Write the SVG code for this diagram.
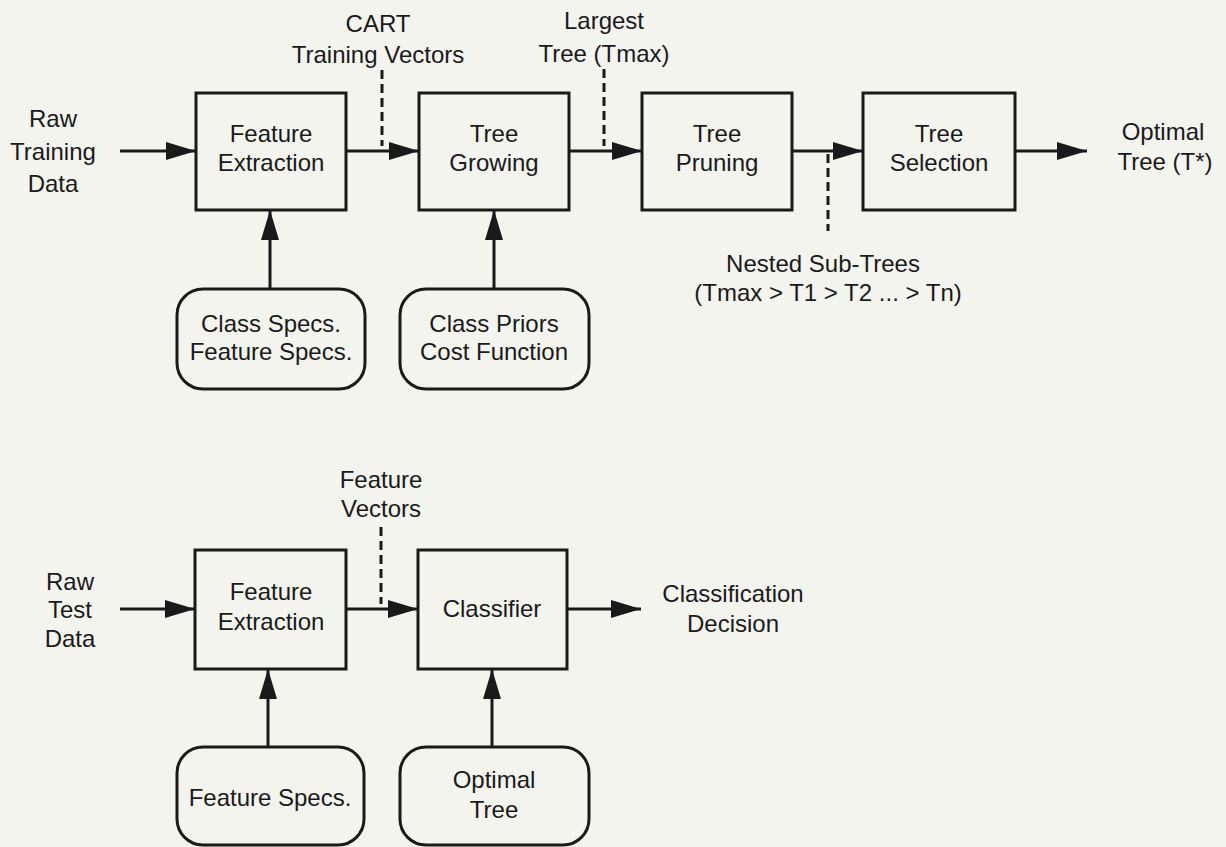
<svg xmlns="http://www.w3.org/2000/svg" width="1226" height="847" viewBox="0 0 1226 847">
<style>
.bg{fill:#f4f4ef}
.box{fill:none;stroke:#1a1a1a;stroke-width:3}
.ln{fill:none;stroke:#1a1a1a;stroke-width:3}
.dash{fill:none;stroke:#1a1a1a;stroke-width:3;stroke-dasharray:9 5}
text{font-family:"Liberation Sans",Arial,sans-serif;font-size:24px;fill:#1a1a1a;text-anchor:middle}
</style>
<defs>
<marker id="ah" markerUnits="userSpaceOnUse" markerWidth="30" markerHeight="18" refX="30" refY="9" orient="auto">
<path d="M0,0 L30,9 L0,18 z" fill="#1a1a1a"/>
</marker>
</defs>
<rect class="bg" x="0" y="0" width="1226" height="847"/>

<g id="connectors">
<line class="ln" x1="120" y1="151" x2="196" y2="151" marker-end="url(#ah)"/>
<line class="ln" x1="346" y1="151" x2="419" y2="151" marker-end="url(#ah)"/>
<line class="ln" x1="569" y1="151" x2="642" y2="151" marker-end="url(#ah)"/>
<line class="ln" x1="792" y1="151" x2="863" y2="151" marker-end="url(#ah)"/>
<line class="ln" x1="1015" y1="151" x2="1087" y2="151" marker-end="url(#ah)"/>
<line class="ln" x1="270" y1="289" x2="270" y2="210" marker-end="url(#ah)"/>
<line class="ln" x1="494" y1="289" x2="494" y2="210" marker-end="url(#ah)"/>
<line class="dash" x1="382" y1="70" x2="382" y2="146"/>
<line class="dash" x1="604" y1="69" x2="604" y2="146"/>
<line class="dash" x1="828" y1="154" x2="828" y2="231"/>

<line class="ln" x1="120" y1="609" x2="195" y2="609" marker-end="url(#ah)"/>
<line class="ln" x1="346" y1="609" x2="418" y2="609" marker-end="url(#ah)"/>
<line class="ln" x1="567" y1="609" x2="641" y2="609" marker-end="url(#ah)"/>
<line class="ln" x1="268" y1="747" x2="268" y2="669" marker-end="url(#ah)"/>
<line class="ln" x1="492" y1="747" x2="492" y2="669" marker-end="url(#ah)"/>
<line class="dash" x1="381" y1="527" x2="381" y2="604"/>
</g>

<g id="lbl-raw-training"><text x="53" y="127">Raw</text><text x="53" y="160">Training</text><text x="53" y="192">Data</text></g>
<g id="lbl-cart"><text x="378" y="32">CART</text><text x="378" y="63">Training Vectors</text></g>
<g id="lbl-largest"><text x="604" y="29">Largest</text><text x="604" y="62">Tree (Tmax)</text></g>
<g id="lbl-optimal-top"><text x="1163" y="140">Optimal</text><text x="1165" y="170">Tree (T*)</text></g>
<g id="lbl-nested"><text x="823" y="272">Nested Sub-Trees</text><text x="828" y="301">(Tmax &gt; T1 &gt; T2 ... &gt; Tn)</text></g>

<g id="feature-extraction-1"><rect class="box" x="196" y="93" width="150" height="117"/><text x="271" y="142">Feature</text><text x="271" y="171">Extraction</text></g>
<g id="tree-growing"><rect class="box" x="419" y="93" width="150" height="117"/><text x="494" y="142">Tree</text><text x="494" y="171">Growing</text></g>
<g id="tree-pruning"><rect class="box" x="642" y="93" width="150" height="117"/><text x="717" y="142">Tree</text><text x="717" y="171">Pruning</text></g>
<g id="tree-selection"><rect class="box" x="863" y="93" width="152" height="117"/><text x="939" y="142">Tree</text><text x="939" y="171">Selection</text></g>
<g id="class-specs"><rect class="box" x="177" y="289" width="188" height="100" rx="26" ry="26"/><text x="271" y="332">Class Specs.</text><text x="271" y="360">Feature Specs.</text></g>
<g id="class-priors"><rect class="box" x="400" y="289" width="189" height="100" rx="26" ry="26"/><text x="494" y="332">Class Priors</text><text x="494" y="360">Cost Function</text></g>

<g id="lbl-raw-test"><text x="70" y="590">Raw</text><text x="70" y="618">Test</text><text x="70" y="647">Data</text></g>
<g id="lbl-feature-vectors"><text x="381" y="488">Feature</text><text x="381" y="517">Vectors</text></g>
<g id="lbl-decision"><text x="733" y="602">Classification</text><text x="733" y="632">Decision</text></g>
<g id="feature-extraction-2"><rect class="box" x="195" y="550" width="151" height="119"/><text x="271" y="600">Feature</text><text x="271" y="630">Extraction</text></g>
<g id="classifier"><rect class="box" x="418" y="550" width="149" height="119"/><text x="492" y="617">Classifier</text></g>
<g id="feature-specs"><rect class="box" x="177" y="747" width="187" height="98" rx="26" ry="26"/><text x="270" y="806">Feature Specs.</text></g>
<g id="optimal-tree"><rect class="box" x="400" y="747" width="189" height="98" rx="26" ry="26"/><text x="494" y="788">Optimal</text><text x="494" y="818">Tree</text></g>
</svg>
